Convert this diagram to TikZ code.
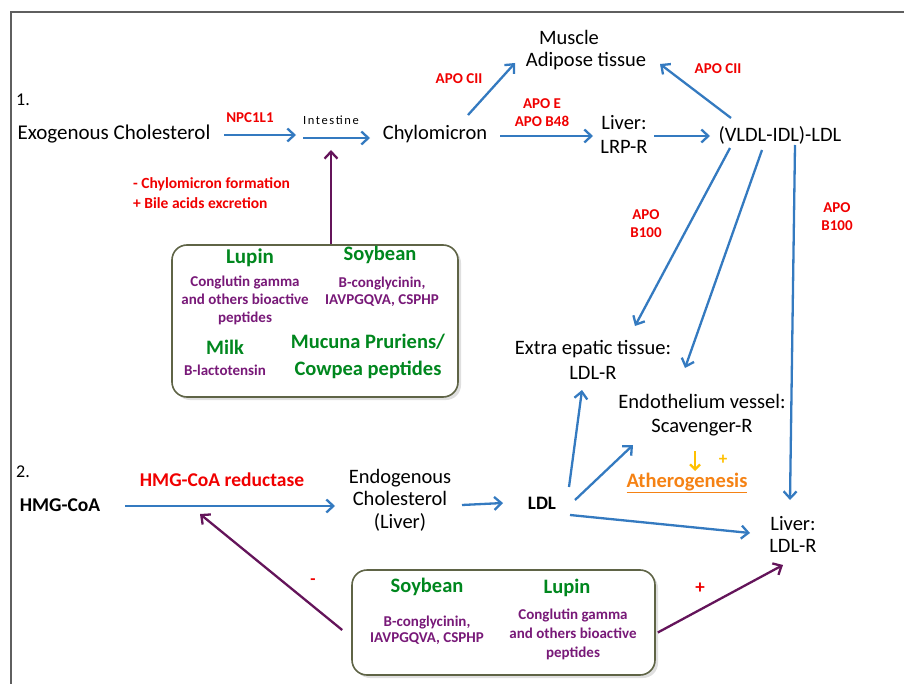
\documentclass[tikz,border=0pt]{standalone}
\usepackage{fontspec}
\setmainfont{Carlito}
\usetikzlibrary{arrows.meta}
\definecolor{ablue}{RGB}{52,122,192}
\definecolor{apurple}{RGB}{100,20,90}
\definecolor{tgreen}{RGB}{0,135,30}
\definecolor{tpurple}{RGB}{120,25,120}
\definecolor{tred}{RGB}{240,0,0}
\definecolor{torange}{RGB}{245,130,20}
\definecolor{tyellow}{RGB}{255,192,0}
\definecolor{boxline}{RGB}{95,100,70}
\definecolor{frameg}{RGB}{95,95,95}
\begin{document}
\begin{tikzpicture}[x=1pt,y=-1pt,
  txt/.style={inner sep=0pt, align=center, text=black, font=\fontsize{20.5}{24}\selectfont},
  redlab/.style={inner sep=0pt, align=center, text=tred, font=\bfseries\fontsize{15}{18}\selectfont},
  head/.style={inner sep=0pt, align=center, text=tgreen, font=\bfseries\fontsize{20.5}{26}\selectfont},
  body/.style={inner sep=0pt, align=center, text=tpurple, font=\bfseries\fontsize{15}{18}\selectfont},
  pbox/.style={draw=boxline, line width=1.6pt, rounded corners=15pt, fill=white, inner sep=0pt},
  ar/.style={draw=ablue, line width=2.3pt, -{Straight Barb[length=7pt,width=13pt,line width=2.3pt]}},
  par/.style={draw=apurple, line width=2.3pt, -{Straight Barb[length=7pt,width=13pt,line width=2.3pt]}},
  yar/.style={draw=tyellow, line width=2.3pt, -{Straight Barb[length=5pt,width=10pt,line width=2.3pt]}}
]
\useasboundingbox (0,0) rectangle (904,684);
\draw[frameg, line width=2.5pt] (904,12) -- (11,12) -- (11,684);

% section labels
\node[txt, font=\fontsize{18}{22}\selectfont, anchor=west] (one) at (16,100) {1.};
\node[txt, font=\fontsize{18}{22}\selectfont, anchor=west] (two) at (16,472) {2.};

% pathway 1
\node[txt, font=\fontsize{21}{24}\selectfont] (exo) at (114,134) {Exogenous Cholesterol};
\node[redlab] (npc) at (250,118) {NPC1L1};
\node[txt, font=\fontsize{12.5}{14}\selectfont\addfontfeature{LetterSpace=13}] (int) at (331,120) {Intestine};
\node[txt] (chylo) at (435,134) {Chylomicron};
\node[txt] (mus) at (569,37) {Muscle};
\node[txt] (adi) at (586,61) {Adipose tissue};
\node[redlab] (apoc1) at (459,79) {APO CII};
\node[redlab] (apoc2) at (718,69) {APO CII};
\node[redlab] (apoe) at (542,113) {APO E\\APO B48};
\node[txt] (liver1) at (624,134) {Liver:\\LRP-R};
\node[txt] (vldl) at (780,135) {(VLDL-IDL)-LDL};
\node[redlab] (b100a) at (646,224) {APO\\B100};
\node[redlab] (b100b) at (837,217) {APO\\B100};
\node[txt, font=\fontsize{20.5}{25}\selectfont] (extra) at (593,360) {Extra epatic tissue:\\LDL-R};
\node[txt] (endo) at (702,415) {Endothelium vessel:\\Scavenger-R};
\node[txt, text=torange, font=\bfseries\fontsize{20.5}{24}\selectfont] (ather) at (687,483) {\underline{Atherogenesis}};
\node[txt, text=tyellow, font=\bfseries\fontsize{17}{18}\selectfont] (yplus) at (723,460) {+};
\node[txt, font=\bfseries\fontsize{19}{24}\selectfont] (ldl) at (542,503) {LDL};
\node[txt, font=\fontsize{20.5}{22}\selectfont] (liver2) at (793,534) {Liver:\\LDL-R};
\node[redlab, anchor=west, align=left, font=\bfseries\fontsize{15.5}{20}\selectfont] (chyf) at (133,193) {- Chylomicron formation\\+ Bile acids excretion};

% pathway 2
\node[txt, font=\bfseries\fontsize{19.5}{24}\selectfont] (hmg) at (60,505) {HMG-CoA};
\node[txt, text=tred, font=\bfseries\fontsize{19.5}{24}\selectfont] (hmgred) at (222,480) {HMG-CoA reductase};
\node[txt, font=\fontsize{20.5}{22.5}\selectfont] (endog) at (400,500) {Endogenous\\Cholesterol\\(Liver)};
\node[redlab, font=\bfseries\fontsize{17}{18}\selectfont] (minus) at (313,582) {-};
\node[redlab, font=\bfseries\fontsize{19}{20}\selectfont] (plus) at (700,588) {+};

% box 1
\fill[gray!25, rounded corners=15pt] (175,248) rectangle (461,400);
\node[pbox, minimum width=286pt, minimum height=152pt] (box1) at (315,321) {};
\node[head, font=\bfseries\fontsize{21}{26}\selectfont] (b1lup) at (250,258) {Lupin};
\node[head] (b1soy) at (380,255) {Soybean};
\node[body] (b1lupt) at (245,300) {Conglutin gamma\\and others bioactive\\peptides};
\node[body, font=\bfseries\fontsize{15}{17}\selectfont] (b1soyt) at (382,291.5) {B-conglycinin,\\IAVPGQVA, CSPHP};
\node[head] (b1milk) at (225,347) {Milk};
\node[body] (b1milkt) at (225,370) {B-lactotensin};
\node[head, font=\bfseries\fontsize{20.5}{27}\selectfont] (b1muc) at (368,356.5) {Mucuna Pruriens/\\Cowpea peptides};

% box 2
\fill[gray!25, rounded corners=15pt] (355,573) rectangle (658,678);
\node[pbox, minimum width=303pt, minimum height=105pt] (box2) at (503.5,622.5) {};
\node[head] (b2soy) at (427,587) {Soybean};
\node[body, font=\bfseries\fontsize{15}{16}\selectfont] (b2soyt) at (427,630) {B-conglycinin,\\IAVPGQVA, CSPHP};
\node[head] (b2lup) at (567,588) {Lupin};
\node[body, font=\bfseries\fontsize{15}{19}\selectfont] (b2lupt) at (573,634) {Conglutin gamma\\and others bioactive\\peptides};

% blue connectors
\draw[ar] ([shift={(110,1)}]exo.center) -- ([shift={(-35,15)}]int.center);
\draw[ar] ([shift={(-28,18)}]int.center) -- ([shift={(-65,4)}]chylo.center);
\draw[ar] ([shift={(33,-19)}]chylo.center) -- ([shift={(-71,2)}]adi.center);
\draw[ar] ([shift={(65,2)}]chylo.center) -- ([shift={(-31,2)}]liver1.center);
\draw[ar] ([shift={(30,2)}]liver1.center) -- ([shift={(-70,1)}]vldl.center);
\draw[ar] ([shift={(-49,-17)}]vldl.center) -- ([shift={(74,3)}]adi.center);
\draw[ar] ([shift={(-50,13)}]vldl.center) -- ([shift={(42,-34)}]extra.center);
\draw[ar] ([shift={(-18,15)}]vldl.center) -- ([shift={(-17,-47)}]endo.center);
\draw[ar] ([shift={(15,10)}]vldl.center) -- ([shift={(-3,-34)}]liver2.center);
\draw[ar] ([shift={(27,-16)}]ldl.center) -- ([shift={(-11,30)}]extra.center);
\draw[ar] ([shift={(33,-3)}]ldl.center) -- ([shift={(-69,30)}]endo.center);
\draw[ar] ([shift={(28,12)}]ldl.center) -- ([shift={(-43,-1)}]liver2.center);
\draw[ar] ([shift={(65,1)}]hmg.center) -- ([shift={(-65,6)}]endog.center);
\draw[ar] ([shift={(62,5)}]endog.center) -- ([shift={(-39,0)}]ldl.center);

% yellow
\draw[yar] ([shift={(8,-32)}]ather.center) -- ([shift={(8,-12)}]ather.center);

% purple connectors
\draw[par] ([shift={(16,0)}]box1.north) -- ([shift={(0,30)}]int.center);
\draw[par] ([shift={(-9,7.5)}]box2.west) -- ([shift={(-22,34)}]hmgred.center);
\draw[par] ([shift={(2,10)}]box2.east) -- ([shift={(-10,31)}]liver2.center);
\end{tikzpicture}
\end{document}
